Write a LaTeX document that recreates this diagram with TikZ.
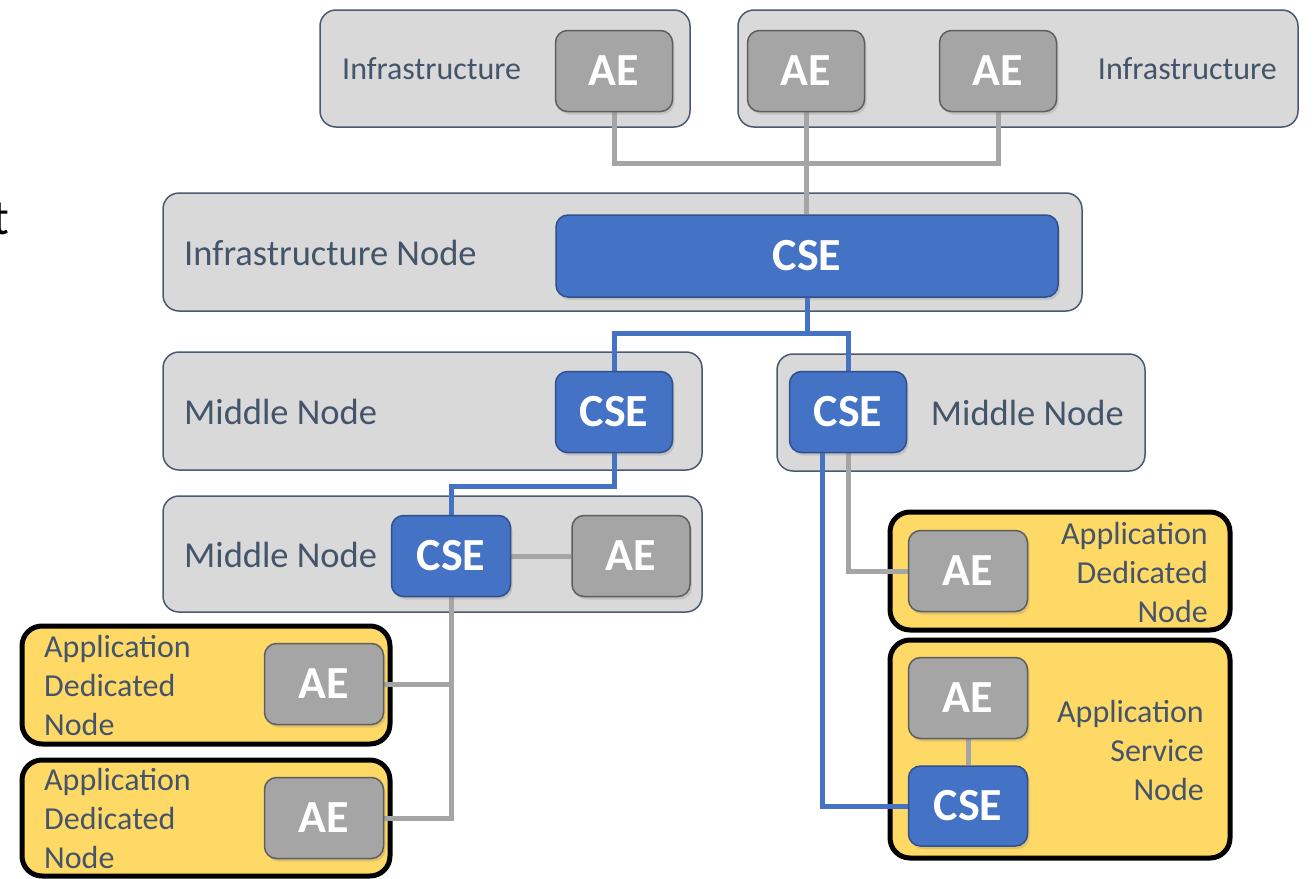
\documentclass[tikz,border=0pt]{standalone}
\usepackage{fontspec}
\setmainfont{Carlito}
\usetikzlibrary{shadows}
\pgfdeclarelayer{bg}
\pgfdeclarelayer{mid}
\pgfsetlayers{bg,mid,main}
\definecolor{graybg}{HTML}{D9D9D9}
\definecolor{outline}{HTML}{4A5A72}
\definecolor{txt}{HTML}{44546A}
\definecolor{aefill}{HTML}{A5A5A5}
\definecolor{aeborder}{HTML}{5E5E5E}
\definecolor{csefill}{HTML}{4472C4}
\definecolor{cseborder}{HTML}{2F4F8F}
\definecolor{yellowbg}{HTML}{FFD966}
\definecolor{gline}{HTML}{A5A5A5}
\begin{document}
\begin{tikzpicture}[x=1pt,y=-1pt,
  outer/.style={draw=outline, fill=graybg, line width=1.5pt, rounded corners=16pt, inner sep=0pt},
  yel/.style={draw=black, fill=yellowbg, line width=5pt, rounded corners=20pt, inner sep=0pt},
  inbox/.style={line width=1.5pt, rounded corners=12pt, minimum width=117pt, minimum height=81pt,
     text=white, font=\fontsize{46}{46}\selectfont\bfseries, inner sep=0pt,
     drop shadow={shadow xshift=2pt, shadow yshift=-3pt, opacity=0.25}},
  ae/.style={inbox, draw=aeborder, fill=aefill},
  cse/.style={inbox, draw=cseborder, fill=csefill},
  lbl/.style={text=txt, inner sep=0pt},
  big/.style={lbl, font=\fontsize{36.5}{40}\selectfont},
  small/.style={lbl, font=\fontsize{32}{39}\selectfont},
  gl/.style={draw=gline, line width=5pt},
  bl/.style={draw=csefill, line width=5pt}
]
\useasboundingbox (0,0) rectangle (1314,878);
\begin{pgfonlayer}{bg}
% cropped fragment
\node[anchor=east, inner sep=0pt, font=\fontsize{50}{50}\selectfont] (frag) at (9,219) {t};
% outer containers
\node[outer, minimum width=370, minimum height=117] (inf1) at (505,68.5) {};
\node[outer, minimum width=560, minimum height=117] (inf2) at (1018,68.5) {};
\node[outer, minimum width=919, minimum height=118] (infn) at (622.5,252) {};
\node[outer, minimum width=539, minimum height=118] (mn1) at (432.5,411) {};
\node[outer, minimum width=368, minimum height=117] (mn2) at (961,412.5) {};
\node[outer, minimum width=539, minimum height=116] (mn3) at (432.5,554) {};
\node[yel, minimum width=340, minimum height=118] (adr) at (1060,571) {};
\node[yel, minimum width=340, minimum height=218] (asn) at (1060,749) {};
\node[yel, minimum width=368, minimum height=118] (adl1) at (206,685) {};
\node[yel, minimum width=368, minimum height=116] (adl2) at (206,818) {};
% labels
\node[small, anchor=west] (t1) at (342,69) {Infrastructure};
\node[small, anchor=east] (t2) at (1277,69) {Infrastructure};
\node[big, anchor=west] (t3) at (184,253) {Infrastructure Node};
\node[big, anchor=west] (t4) at (184,412) {Middle Node};
\node[big, anchor=east] (t5) at (1124,413) {Middle Node};
\node[big, anchor=west] (t6) at (184,555) {Middle Node};
\node[small, anchor=east, align=right] (t7) at (1208,572) {Application\\Dedicated\\Node};
\node[small, anchor=east, align=right] (t8) at (1204,750) {Application\\Service\\Node};
\node[small, anchor=west, align=left] (t9) at (44,685) {Application\\Dedicated\\Node};
\node[small, anchor=west, align=left] (t10) at (44,818) {Application\\Dedicated\\Node};
\end{pgfonlayer}
% inner boxes
\node[ae] (ae1) at (614,71) {AE};
\node[ae] (ae2) at (806,71) {AE};
\node[ae] (ae3) at (998,71) {AE};
\node[cse, minimum width=502, minimum height=82] (cse0) at (807,256) {CSE};
\node[cse] (cseml) at (614,412) {CSE};
\node[cse] (csemr) at (848,412) {CSE};
\node[cse, minimum width=119] (csel) at (451,556) {CSE};
\node[ae, minimum width=118] (aelm) at (631,556) {AE};
\node[ae, minimum width=119] (aeadr) at (968,571) {AE};
\node[ae, minimum width=119] (aea) at (968,698) {AE};
\node[cse, minimum width=119, minimum height=80] (csea) at (968,806) {CSE};
\node[ae, minimum width=119] (aeadl1) at (324,684) {AE};
\node[ae, minimum width=119] (aeadl2) at (324,818) {AE};
% connectors
\begin{pgfonlayer}{mid}
\draw[gl] (ae1.south) -- ++(0,51) -| (ae3.south);
\draw[gl] (ae2.south) -- (ae2.south |- cse0.north);
\draw[bl] (cse0.south) -- ++(0,36) coordinate (j1);
\draw[bl] (cseml.north) |- (j1) -| (csemr.north);
\draw[bl] (cseml.south) -- ++(0,33) -| (csel.north);
\draw[gl] (csel.east) -- (aelm.west);
\draw[gl] (csel.south) |- (aeadl2.east);
\draw[gl] (aeadl1.east) -- (aeadl1.east -| csel.south);
\draw[gl] (csemr.south) |- (aeadr.west);
\draw[bl] ([xshift=-26pt]csemr.south) |- (csea.west);
\draw[gl] (aea.south) -- (csea.north);
\end{pgfonlayer}
\end{tikzpicture}
\end{document}
